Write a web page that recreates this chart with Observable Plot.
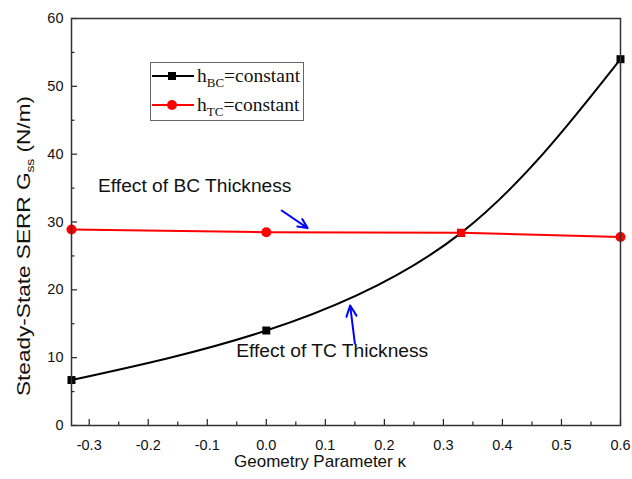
<!DOCTYPE html>
<html><head><meta charset="utf-8">
<script src="https://cdn.jsdelivr.net/npm/d3@7"></script>
<script src="https://cdn.jsdelivr.net/npm/@observablehq/plot@0.6"></script>
<style>
body{margin:0;background:#fff;}
#wrap{position:relative;width:632px;height:479px;font-family:"Liberation Sans",Arial,sans-serif;}
#legend{position:absolute;left:150px;top:62px;width:152px;height:57px;border:1.5px solid #666;background:#fff;font-family:"Liberation Serif","Times New Roman",serif;font-size:19.5px;color:#111;}
#legend .row{position:absolute;left:0;height:24px;display:flex;align-items:center;white-space:nowrap;}
#legend svg{display:block;}
#legend sub{font-size:13px;vertical-align:-5px;line-height:0;}
</style></head><body><div id="wrap"></div>
<script>
// ---- data ----
const kappa = [-0.33, 0, 0.33, 0.6];
const gssBC = [6.7, 14.0, 28.4, 54.0];   // h_BC = constant (black, squares)
const gssTC = [28.9, 28.5, 28.4, 27.8];  // h_TC = constant (red, circles)
const seriesLabels = [["h","BC","=constant"], ["h","TC","=constant"]];
const xTicks = [-0.3, -0.2, -0.1, 0, 0.1, 0.2, 0.3, 0.4, 0.5, 0.6];
const xMinor = [-0.25, -0.15, -0.05, 0.05, 0.15, 0.25, 0.35, 0.45, 0.55];
const yTicks = [0, 10, 20, 30, 40, 50, 60];
const yMinor = [5, 15, 25, 35, 45, 55];
const noteText = ["Effect of BC Thickness", "Effect of TC Thickness"];
const noteX = [-0.285, -0.051];
const noteY = [35.4, 11.0];
const arrowFrom = [[0.026, 31.7], [0.150, 12.1]];
const arrowTo = [[0.070, 29.1], [0.142, 17.7]];

const W = 632, H = 479;
const mL = 71, mR = 12, mT = 18, mB = 54;
const innerW = W - mL - mR, innerH = H - mT - mB;

const bc = kappa.map((k, i) => ({k, g: gssBC[i]}));
const tc = kappa.map((k, i) => ({k, g: gssTC[i]}));
const shared = tc.filter(d => bc.some(b => b.k === d.k && Math.abs(b.g - d.g) < 0.05));
const tcOnly = tc.filter(d => !shared.includes(d));
const notes = noteText.map((t, i) => ({t, x: noteX[i], y: noteY[i]}));
const arrows = arrowFrom.map((f, i) => ({x1: f[0], y1: f[1], x2: arrowTo[i][0], y2: arrowTo[i][1]}));

const chart = Plot.plot({
  width: W, height: H,
  marginLeft: mL, marginRight: mR, marginTop: mT, marginBottom: mB,
  style: {fontFamily: '"Liberation Sans", Arial, sans-serif', fontSize: "14.5px", color: "#111", background: "#fff"},
  x: {domain: [-0.33, 0.6]},
  y: {domain: [0, 60]},
  marks: [
    Plot.axisX({ticks: xTicks, tickSize: 0, tickPadding: 14, tickFormat: d => d.toFixed(1), label: null, fontSize: 14.5}),
    Plot.axisY({ticks: yTicks, tickSize: 0, tickPadding: 8, tickFormat: d => String(d), label: null, fontSize: 14.5}),
    Plot.ruleX(xTicks, {x: d => d, insetTop: innerH - 6, stroke: "#222", strokeWidth: 1.2}),
    Plot.ruleX(xMinor, {x: d => d, insetTop: innerH - 3.5, stroke: "#222", strokeWidth: 1.2}),
    Plot.ruleY(yTicks, {y: d => d, insetRight: innerW - 6, stroke: "#222", strokeWidth: 1.2}),
    Plot.ruleY(yMinor, {y: d => d, insetRight: innerW - 3.5, stroke: "#222", strokeWidth: 1.2}),
    Plot.line(bc, {x: "k", y: "g", stroke: "#000", strokeWidth: 2, curve: "natural"}),
    Plot.dot(bc, {x: "k", y: "g", symbol: "square", r: 4.5, fill: "#000", stroke: "none"}),
    Plot.line(tc, {x: "k", y: "g", stroke: "#ff0000", strokeWidth: 2}),
    Plot.dot(shared, {x: "k", y: "g", symbol: "square", r: 4.5, fill: "#ff0000", stroke: "none"}),
    Plot.dot(tcOnly, {x: "k", y: "g", r: 5, fill: "#ff0000", stroke: "none"}),
    Plot.text(notes, {x: "x", y: "y", text: "t", textAnchor: "start", fontSize: 19.2, fill: "#111"}),
    Plot.arrow(arrows, {x1: "x1", y1: "y1", x2: "x2", y2: "y2", stroke: "#0000ff", strokeWidth: 2, headLength: 9, headAngle: 50}),
    Plot.frame({stroke: "#333", strokeWidth: 1.5})
  ]
});

const svg = d3.select(chart);
// x axis title
svg.append("text")
  .attr("x", 320).attr("y", 467)
  .attr("text-anchor", "middle")
  .attr("font-size", 17).attr("fill", "#111")
  .text("Geometry Parameter κ");
// y axis title with subscript
const yt = svg.append("text")
  .attr("transform", "translate(30,246) rotate(-90)")
  .attr("text-anchor", "middle")
  .attr("font-size", 18).attr("fill", "#111")
  .attr("textLength", 300).attr("lengthAdjust", "spacingAndGlyphs");
yt.append("tspan").text("Steady-State SERR G");
yt.append("tspan").attr("font-size", 11).attr("dy", 4).text("ss");
yt.append("tspan").attr("dy", -4).text(" (N/m)");

const wrap = document.getElementById("wrap");
wrap.appendChild(chart);

// legend
const legend = document.createElement("div");
legend.id = "legend";
const colors = ["#000", "#ff0000"];
const symbols = ["square", "circle"];
seriesLabels.forEach((lab, i) => {
  const row = document.createElement("div");
  row.className = "row";
  row.style.top = (i === 0 ? 1 : 30) + "px";
  const mark = symbols[i] === "square"
    ? `<rect x="17" y="8" width="8" height="8" fill="${colors[i]}"/>`
    : `<circle cx="21" cy="12" r="5" fill="${colors[i]}"/>`;
  row.innerHTML = `<svg width="46" height="24"><line x1="1" y1="12" x2="43" y2="12" stroke="${colors[i]}" stroke-width="2"/>${mark}</svg>` +
    `<span>${lab[0]}<sub>${lab[1]}</sub>${lab[2]}</span>`;
  legend.appendChild(row);
});
wrap.appendChild(legend);
</script>
</body></html>
